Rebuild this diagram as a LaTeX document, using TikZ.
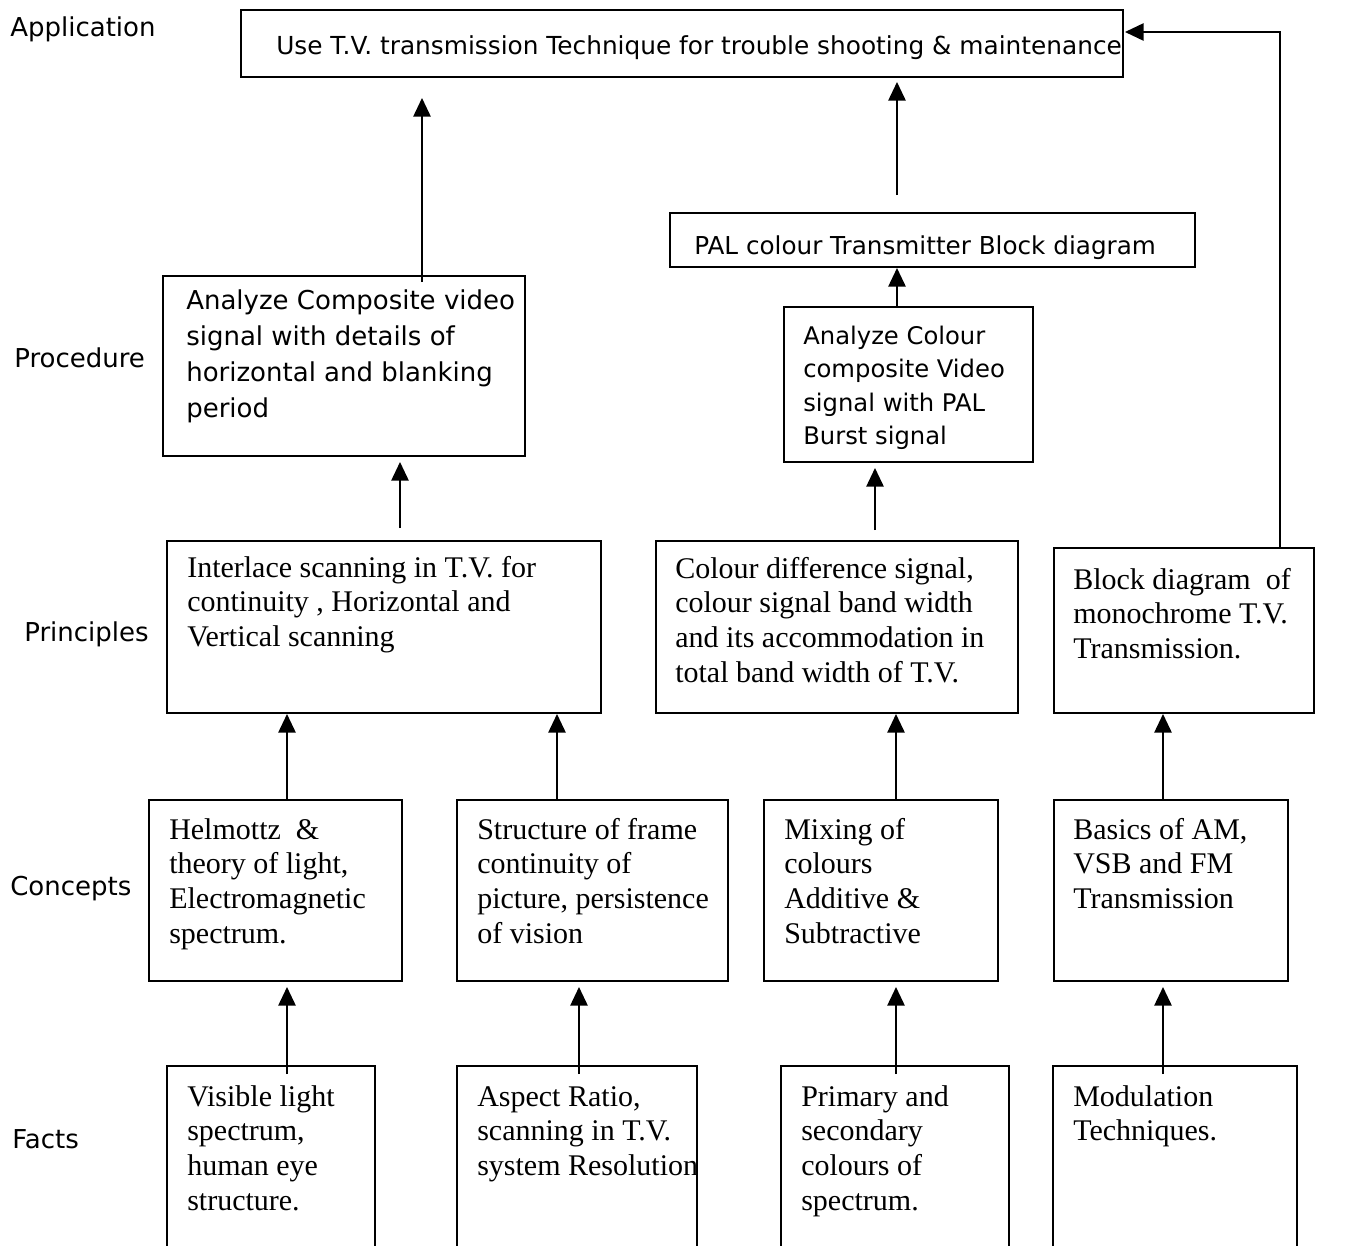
\documentclass[tikz,border=0pt]{standalone}
\usepackage{fontspec}
\setmainfont{Liberation Serif}
\newfontfamily\vsans{DejaVu Sans}
\usetikzlibrary{arrows.meta}
\newcommand\boxlines[1]{\begin{tabular}[t]{@{}l@{}}#1\end{tabular}}
\newcommand\mkbox[5]{\node[box, minimum width={(#4-#2)*0.75pt}, minimum height={(#5-#3)*0.75pt}] (#1) at (#2,#3) {};}
\tikzset{
  box/.style={draw, line width=1.2pt, inner sep=0pt, outer sep=0pt, anchor=north west},
  arr/.style={line width=1.3pt, -{Triangle[length=14pt,width=13pt]}},
  sanst/.style={font=\vsans\fontsize{19.5}{27}\selectfont, anchor=base west, inner sep=0pt},
  sansn/.style={font=\vsans\fontsize{18.5}{25.2}\selectfont, anchor=base west, inner sep=0pt},
  sansc/.style={font=\vsans\fontsize{18.2}{25.2}\selectfont, anchor=base west, inner sep=0pt},
  sert/.style={font=\fontsize{22.5}{26}\selectfont, anchor=base west, inner sep=0pt},
}
\begin{document}
\begin{tikzpicture}[x=0.75pt, y=-0.75pt]
\useasboundingbox (0,0) rectangle (1348,1245);
\fill[white] (0,0) rectangle (1348,1245);
\clip (0,0) rectangle (1348,1245);

% row labels
\node[sanst] (lapp) at (10,37) {Application};
\node[sanst] (lproc) at (14,367) {Procedure};
\node[sanst] (lprin) at (24,641) {Principles};
\node[sanst] (lconc) at (10,895) {Concepts};
\node[sanst] (lfact) at (12,1148) {Facts};

% boxes
\mkbox{app}{241}{10}{1123}{77}
\mkbox{pal}{670}{213}{1195}{267}
\mkbox{proc}{163}{276}{525}{456}
\mkbox{acol}{784}{307}{1033}{462}
\mkbox{pra}{167}{541}{601}{713}
\mkbox{prb}{656}{541}{1018}{713}
\mkbox{prc}{1054}{548}{1314}{713}
\mkbox{ca}{149}{800}{402}{981}
\mkbox{cb}{457}{800}{728}{981}
\mkbox{cc}{764}{800}{998}{981}
\mkbox{cd}{1054}{800}{1288}{981}
\mkbox{fa}{167}{1066}{375}{1270}
\mkbox{fb}{457}{1066}{697}{1270}
\mkbox{fc}{781}{1066}{1009}{1270}
\mkbox{fd}{1053}{1066}{1297}{1270}

% texts
\node[sansn, font=\vsans\fontsize{18.6}{25}\selectfont] (tapp) at (276,55) {Use T.V. transmission Technique for trouble shooting \& maintenance};
\node[sansn] (tpal) at (694,254) {PAL colour Transmitter Block diagram};
\node[sanst] (tproc) at (186,309) {\boxlines{Analyze Composite video\\signal with details of\\horizontal and blanking\\period}};
\node[sansc] (tacol) at (803,344) {\boxlines{Analyze Colour\\composite Video\\signal with PAL\\Burst signal}};
\node[sert] (tpra) at (187,577) {\boxlines{Interlace scanning in T.V. for\\continuity , Horizontal and\\Vertical scanning}};
\node[sert] (tprb) at (675,578) {\boxlines{Colour difference signal,\\colour signal band width\\and its accommodation in\\total band width of T.V.}};
\node[sert] (tprc) at (1073,589) {\boxlines{Block diagram\ \ of\\monochrome T.V.\\Transmission.}};
\node[sert] (tca) at (169,839) {\boxlines{Helmottz\ \ \&\\theory of light,\\Electromagnetic\\spectrum.}};
\node[sert] (tcb) at (477,839) {\boxlines{Structure of frame\\continuity of\\picture, persistence\\of vision}};
\node[sert] (tcc) at (784,839) {\boxlines{Mixing of\\colours\\Additive \&\\Subtractive}};
\node[sert] (tcd) at (1073,839) {\boxlines{Basics of AM,\\VSB and FM\\Transmission}};
\node[sert] (tfa) at (187,1106) {\boxlines{Visible light\\spectrum,\\human eye\\structure.}};
\node[sert] (tfb) at (477,1106) {\boxlines{Aspect Ratio,\\scanning in T.V.\\system Resolution}};
\node[sert] (tfc) at (801,1106) {\boxlines{Primary and\\secondary\\colours of\\spectrum.}};
\node[sert] (tfd) at (1073,1106) {\boxlines{Modulation\\Techniques.}};

% connectors
\draw[arr] ([shift={(78,6)}]proc.north) -- ([shift={(-260,21)}]app.south);
\draw[arr] ([shift={(-35.5,-18)}]pal.north) -- ([shift={(215,5)}]app.south);
\draw[arr] ([shift={(-11.5,0)}]acol.north) -- ([shift={(-35.5,1)}]pal.south);
\draw[arr] ([shift={(16,-13)}]pra.north) -- ([shift={(56,6)}]proc.south);
\draw[arr] ([shift={(38,-11)}]prb.north) -- ([shift={(-33.5,6)}]acol.south);
\draw[arr] ([shift={(96,0)}]prc.north) |- ([shift={(2,-11.5)}]app.east);
\draw[arr] ([shift={(11.5,0)}]ca.north) -- ([shift={(-97,1)}]pra.south);
\draw[arr] ([shift={(-35.5,0)}]cb.north) -- ([shift={(173,1)}]pra.south);
\draw[arr] ([shift={(15,0)}]cc.north) -- ([shift={(59,1)}]prb.south);
\draw[arr] ([shift={(-8,0)}]cd.north) -- ([shift={(-21,1)}]prc.south);
\draw[arr] ([shift={(16,8)}]fa.north) -- ([shift={(11.5,6)}]ca.south);
\draw[arr] ([shift={(2,8)}]fb.north) -- ([shift={(-13.5,6)}]cb.south);
\draw[arr] ([shift={(1,8)}]fc.north) -- ([shift={(15,6)}]cc.south);
\draw[arr] ([shift={(-12,8)}]fd.north) -- ([shift={(-8,6)}]cd.south);
\end{tikzpicture}
\end{document}
